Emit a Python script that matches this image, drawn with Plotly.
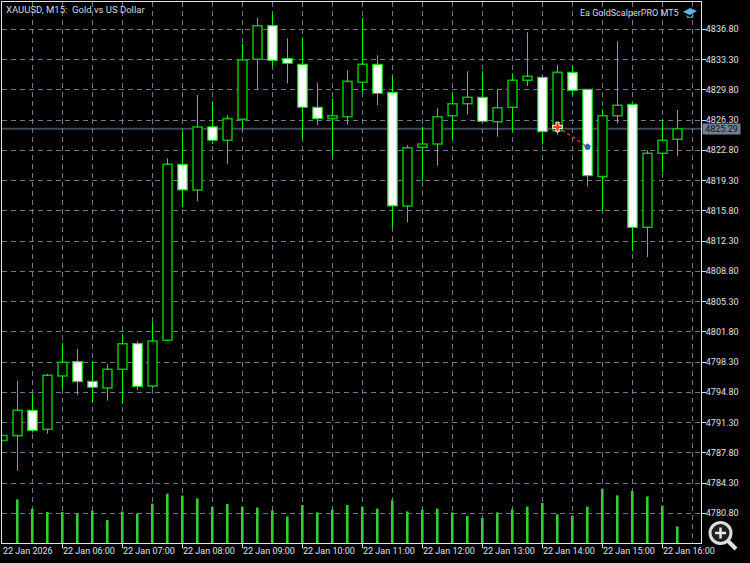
import plotly.graph_objects as go

# 15-minute bars of XAUUSD, starting at 05:00 on 22 Jan 2026
opens = [4789.22, 4789.78, 4792.72, 4790.52, 4796.69, 4798.34, 4796.07, 4795.30, 4797.46, 4800.42, 4795.53, 4800.82,
         4821.18, 4818.21, 4825.50, 4823.96, 4826.39, 4833.33, 4837.22, 4833.40, 4832.75, 4827.78, 4826.46, 4826.69,
         4830.67, 4832.75, 4829.51, 4816.36, 4823.15, 4823.53, 4826.80, 4828.19, 4828.93, 4826.11, 4827.78, 4830.90,
         4831.25, 4825.07, 4831.82, 4829.86, 4819.75, 4826.80, 4828.12, 4813.89, 4822.45, 4824.07]
highs = [4789.80, 4796.11, 4794.60, 4796.92, 4800.47, 4799.81, 4798.39, 4798.04, 4801.55, 4800.70, 4802.93, 4821.87,
         4824.95, 4829.20, 4828.35, 4826.85, 4835.10, 4838.11, 4838.65, 4835.76, 4835.87, 4830.62, 4828.82, 4832.06,
         4838.11, 4833.79, 4831.36, 4823.38, 4825.53, 4827.66, 4829.46, 4831.94, 4831.94, 4829.86, 4831.71, 4836.45,
         4831.25, 4832.67, 4832.67, 4829.86, 4827.54, 4835.41, 4828.12, 4822.80, 4826.23, 4827.46]
lows = [4789.22, 4785.73, 4790.13, 4790.01, 4795.18, 4794.52, 4793.60, 4793.83, 4793.48, 4795.07, 4795.26, 4800.74,
        4816.24, 4816.93, 4823.53, 4821.25, 4825.35, 4829.89, 4832.52, 4830.55, 4824.11, 4825.76, 4822.11, 4825.76,
        4829.51, 4828.04, 4813.78, 4814.47, 4819.25, 4821.02, 4824.03, 4826.92, 4826.11, 4824.37, 4824.92, 4830.24,
        4823.45, 4824.61, 4829.20, 4818.64, 4815.72, 4825.88, 4811.15, 4810.46, 4820.25, 4822.11]
closes = [4789.80, 4792.72, 4790.40, 4796.77, 4798.27, 4796.03, 4795.38, 4797.46, 4800.42, 4795.49, 4800.74, 4821.18,
          4818.21, 4825.50, 4823.96, 4826.46, 4833.25, 4837.22, 4833.21, 4832.87, 4827.78, 4826.46, 4826.80, 4830.78,
          4832.75, 4829.40, 4816.36, 4823.10, 4823.53, 4826.69, 4828.19, 4828.93, 4826.16, 4827.73, 4830.90, 4831.36,
          4824.95, 4831.82, 4829.74, 4819.86, 4826.80, 4828.01, 4813.89, 4822.45, 4823.96, 4825.29]
volumes = [None, 218, 170, 155, 155, 147, 162, 115, 157, 147, 197, 247,
           237, 223, 180, 195, 180, 177, 162, 133, 190, 153, 167, 190,
           180, 172, 213, 158, 167, 172, 153, 135, 125, 153, 168, 182,
           200, 143, 135, 182, 270, 238, 260, 233, 187, 83]

last_price = 4825.29
price_ticks = [4836.80, 4833.30, 4829.80, 4826.30, 4822.80, 4819.30, 4815.80, 4812.30, 4808.80,
               4805.30, 4801.80, 4798.30, 4794.80, 4791.30, 4787.80, 4784.30, 4780.80]
time_tick_bars = [0, 4, 8, 12, 16, 20, 24, 28, 32, 36, 40, 44]
time_labels = ["22 Jan 2026", "22 Jan 06:00", "22 Jan 07:00", "22 Jan 08:00", "22 Jan 09:00", "22 Jan 10:00",
               "22 Jan 11:00", "22 Jan 12:00", "22 Jan 13:00", "22 Jan 14:00", "22 Jan 15:00", "22 Jan 16:00"]
grid_bars = [2, 6, 10, 14, 18, 22, 26, 30, 34, 38, 42, 46]
trade_bars = [37, 39]
trade_prices = [4825.50, 4823.20]

W, H = 750, 563
L, R, T, B = 2, 701, 2, 543
px = lambda x: (x - L) / (R - L)
py = lambda y: (B - y) / (B - T)

xs = list(range(len(opens)))
GRID = "#6a7a8c"
FONT = "Roboto"

fig = go.Figure()

# volumes
fig.add_trace(go.Bar(x=xs, y=volumes, yaxis="y2", width=2.6 / 15, offset=-1.5 / 15,
                     marker=dict(color="#32CD32", line=dict(width=0)), hoverinfo="skip"))

# wicks, body excluded
wx, wy = [], []
for i in xs:
    top, bot = max(opens[i], closes[i]), min(opens[i], closes[i])
    wx += [i, i, None, i, i, None]
    wy += [highs[i], top, None, bot, lows[i], None]
fig.add_trace(go.Scatter(x=wx, y=wy, mode="lines", line=dict(color="#00FF00", width=1), hoverinfo="skip"))

# bodies
up = [i for i in xs if closes[i] >= opens[i]]
dn = [i for i in xs if closes[i] < opens[i]]
fig.add_trace(go.Bar(x=up, base=[opens[i] for i in up], y=[closes[i] - opens[i] for i in up], width=0.6,
                     marker=dict(color="#000000", line=dict(color="#00B800", width=1.6)), hoverinfo="skip"))
fig.add_trace(go.Bar(x=dn, base=[closes[i] for i in dn], y=[opens[i] - closes[i] for i in dn], width=0.63,
                     marker=dict(color="#FFFFFF", line=dict(color="#10E010", width=1.2)), hoverinfo="skip"))

# trade
fig.add_trace(go.Scatter(x=trade_bars, y=trade_prices, mode="lines",
                         line=dict(color="#E0401A", width=1.3, dash="3px,3px"), hoverinfo="skip"))
fig.add_trace(go.Scatter(x=trade_bars[:1], y=trade_prices[:1], mode="markers",
                         marker=dict(symbol="cross", size=8, color="#E8401C", line=dict(color="#FFFFFF", width=1)),
                         hoverinfo="skip"))
fig.add_trace(go.Scatter(x=trade_bars[1:], y=trade_prices[1:], mode="markers",
                         marker=dict(symbol="pentagon", size=7, color="#1070C0", line=dict(width=0)),
                         hoverinfo="skip"))

shapes = [
    dict(type="line", xref="paper", x0=0, x1=1, yref="y", y0=last_price, y1=last_price, layer="below",
         line=dict(color="#3F4A55", width=2)),
    # magnifier icon
    dict(type="line", xref="paper", yref="paper", x0=px(728), x1=px(736), y0=py(541), y1=py(549),
         line=dict(color="#E0E0E0", width=4)),
    dict(type="circle", xref="paper", yref="paper", x0=px(710), x1=px(731), y0=py(543.5), y1=py(522.5),
         line=dict(color="#DCDCDC", width=3), fillcolor="#202020"),
    dict(type="line", xref="paper", yref="paper", x0=px(715), x1=px(726), y0=py(533), y1=py(533),
         line=dict(color="#E8E8E8", width=2.5)),
    dict(type="line", xref="paper", yref="paper", x0=px(720.5), x1=px(720.5), y0=py(527.5), y1=py(538.5),
         line=dict(color="#E8E8E8", width=2.5)),
    # cap icon
    dict(type="path", xref="paper", yref="paper",
         path=f"M{px(683)},{py(12)} L{px(690)},{py(8)} L{px(697)},{py(11)} L{px(690)},{py(15)} Z",
         fillcolor="#5BB5EE", line=dict(width=0)),
    dict(type="path", xref="paper", yref="paper",
         path=f"M{px(686)},{py(15)} L{px(690)},{py(17)} L{px(694)},{py(14.5)} L{px(693)},{py(18)} L{px(687)},{py(18)} Z",
         fillcolor="#3A8CC8", line=dict(width=0)),
]

anns = [
    dict(xref="paper", yref="paper", x=px(4), y=py(9), xanchor="left", yanchor="middle", showarrow=False,
         text="XAUUSD, M15:\u00a0\u00a0Gold vs US Dollar", font=dict(family=FONT, size=9.5, color="#D8D8D8")),
    dict(xref="paper", yref="paper", x=px(681), y=py(13), xanchor="right", yanchor="middle", showarrow=False,
         text="Ea GoldScalperPRO MT5", font=dict(family=FONT, size=9, color="#D8D8D8")),
    dict(xref="paper", yref="y", x=px(702), y=last_price, xanchor="left", yanchor="middle", showarrow=False,
         text="4825.29", bgcolor="#708090", borderpad=0, width=37, height=10, align="center",
         font=dict(family=FONT, size=9, color="#10161C")),
]
for b, t in zip(time_tick_bars, time_labels):
    anns.append(dict(xref="x", yref="paper", x=b, y=py(551), xanchor="left", yanchor="middle", xshift=-2, showarrow=False,
                     text=t, font=dict(family=FONT, size=9, color="#E0E0E0")))

fig.update_layout(
    width=W, height=H, margin=dict(l=L, r=W - R, t=T, b=H - B),
    paper_bgcolor="#000000", plot_bgcolor="#000000", showlegend=False, barmode="overlay",
    shapes=shapes, annotations=anns,
    xaxis=dict(range=[-0.5 / 15, (R - L - 0.5) / 15], tickmode="array", tickvals=time_tick_bars[1:], showticklabels=False,
               ticks="outside", ticklen=4, tickcolor="#E0E0E0", tickwidth=1,
               showgrid=True, gridcolor=GRID, griddash="5px,4px", gridwidth=1, zeroline=False,
               minor=dict(tickmode="array", tickvals=grid_bars, showgrid=True, gridcolor=GRID, griddash="5px,4px",
                          gridwidth=1, ticks=""),
               showline=True, mirror=True, linecolor="#E4E4E4", linewidth=1),
    yaxis=dict(range=[4777.36, 4839.96], side="right", tickmode="array", tickvals=price_ticks, tickformat=".2f",
               ticks="outside", ticklen=4, tickcolor="#E0E0E0", tickwidth=1, ticklabelstandoff=-2,
               tickfont=dict(family=FONT, size=9, color="#E0E0E0"),
               showgrid=True, gridcolor=GRID, griddash="5px,4px", gridwidth=1, zeroline=False,
               showline=True, mirror=True, linecolor="#E4E4E4", linewidth=1),
    yaxis2=dict(range=[0, 2705], overlaying="y", side="left", visible=False),
)

fig.write_html("out.html", config=dict(displayModeBar=False),
               post_script="document.body.style.margin='0';document.body.style.background='#000';document.body.style.overflow='hidden';")
